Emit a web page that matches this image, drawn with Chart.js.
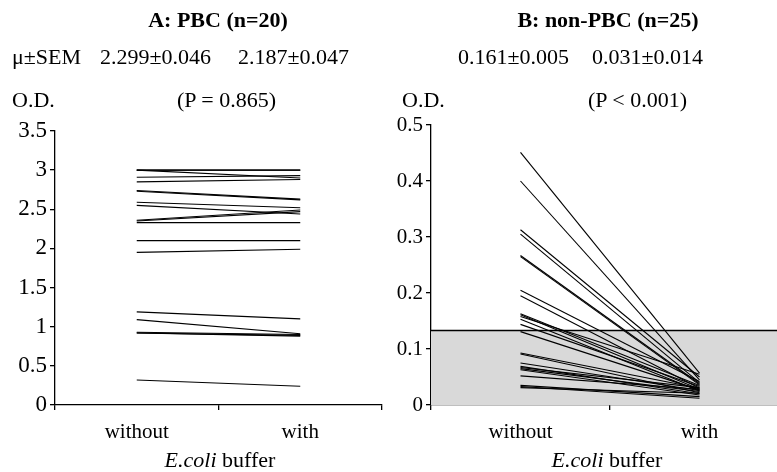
<!DOCTYPE html>
<html>
<head>
<meta charset="utf-8">
<script src="https://cdn.jsdelivr.net/npm/chart.js@4"></script>
<style>
  html, body { margin: 0; padding: 0; background: #fff; overflow: hidden; }
  body { width: 777px; height: 472px; position: relative; font-family: "Liberation Serif", "Times New Roman", serif; color: #000; }
  .t { position: absolute; font-size: 22px; line-height: 22px; white-space: nowrap; }
  .c { transform: translateX(-50%); }
  .b { font-weight: bold; }
  #boxA { position: absolute; left: 0; top: 0; width: 390px; height: 472px; }
  #boxB { position: absolute; left: 390px; top: 0; width: 420px; height: 472px; }
</style>
</head>
<body>
<div id="boxA"><canvas id="chartA"></canvas></div>
<div id="boxB"><canvas id="chartB"></canvas></div>

<div class="t c b" style="left:218px; top:9px;">A: PBC (n=20)</div>
<div class="t c b" style="left:608px; top:9px;">B: non-PBC (n=25)</div>

<div class="t" style="left:12px; top:46px;">μ±SEM</div>
<div class="t" style="left:100px; top:46px;">2.299±0.046</div>
<div class="t" style="left:238px; top:46px;">2.187±0.047</div>
<div class="t" style="left:458px; top:46px;">0.161±0.005</div>
<div class="t" style="left:592px; top:46px;">0.031±0.014</div>

<div class="t" style="left:12px; top:89px;">O.D.</div>
<div class="t" style="left:177px; top:89px;">(P = 0.865)</div>
<div class="t" style="left:402px; top:89px;">O.D.</div>
<div class="t" style="left:588px; top:89px;">(P &lt; 0.001)</div>

<div class="t c" style="left:220px; top:449px;"><i>E.coli</i> buffer</div>
<div class="t c" style="left:607px; top:449px;"><i>E.coli</i> buffer</div>

<script>
// x 카테고리
const buffers = ['without', 'with'];

// A: PBC (n=20)
const pbcWithout = [3.00, 3.00, 3.00, 2.91, 2.85, 2.74, 2.73, 2.59, 2.55, 2.36,
                    2.35, 2.33, 2.10, 1.95, 1.19, 1.09, 0.92, 0.92, 0.93, 0.32];
const pbcWith    = [3.00, 3.00, 2.90, 2.93, 2.88, 2.63, 2.62, 2.52, 2.44, 2.49,
                    2.47, 2.33, 2.10, 1.99, 1.10, 0.91, 0.89, 0.88, 0.90, 0.24];

// B: non-PBC (n=25)
const nonWithout = [0.451, 0.400, 0.313, 0.305, 0.267, 0.265, 0.205, 0.195, 0.163, 0.161,
                    0.158, 0.153, 0.144, 0.131, 0.093, 0.091, 0.075, 0.069, 0.067, 0.065,
                    0.063, 0.052, 0.035, 0.033, 0.031];
const nonWith    = [0.057, 0.045, 0.050, 0.040, 0.038, 0.036, 0.042, 0.030, 0.035, 0.028,
                    0.055, 0.025, 0.033, 0.027, 0.030, 0.022, 0.026, 0.020, 0.031, 0.024,
                    0.018, 0.028, 0.015, 0.012, 0.021];

// y축 범위
const pbcTicks = { min: 0, max: 3.5, step: 0.5 };
const nonTicks = { min: 0, max: 0.5, step: 0.1 };

// 회색 영역 (cut-off)
const cutoff = 0.133;

const SERIF = '"Liberation Serif", "Times New Roman", serif';

function makeDatasets(a, b) {
    return a.map((v, i) => ({
        data: [v, b[i]],
        borderColor: '#000',
        borderWidth: 1.1,
        pointRadius: 0,
        fill: false,
        tension: 0
    }));
}

function makeOptions(ticks, yWidth, ySize, pad) {
    return {
        responsive: false,
        animation: false,
        layout: { padding: pad },
        plugins: { legend: { display: false }, tooltip: { enabled: false } },
        scales: {
            x: {
                offset: true,
                border: { display: true, color: '#000', width: 1.3 },
                grid: { offset: true, drawOnChartArea: false, color: '#000', tickLength: 5, lineWidth: 1.3 },
                ticks: { color: '#000', font: { family: SERIF, size: 21 }, padding: 10, maxRotation: 0 },
                afterFit: s => { s.height = 67; }
            },
            y: {
                min: ticks.min,
                max: ticks.max,
                border: { display: true, color: '#000', width: 1.3 },
                grid: { drawOnChartArea: false, color: '#000', tickLength: 5, lineWidth: 1.3 },
                ticks: {
                    color: '#000',
                    font: { family: SERIF, size: ySize },
                    padding: 3,
                    stepSize: ticks.step,
                    callback: v => String(+v.toFixed(2))
                },
                afterFit: s => { s.width = yWidth; }
            }
        }
    };
}

// 회색 박스 그리기
const cutoffBox = {
    id: 'cutoffBox',
    beforeDatasetsDraw(chart) {
        const { ctx, chartArea, scales } = chart;
        const yTop = scales.y.getPixelForValue(cutoff);
        const yBot = scales.y.getPixelForValue(0);
        ctx.save();
        ctx.fillStyle = '#d9d9d9';
        ctx.fillRect(chartArea.left, yTop, chartArea.right - chartArea.left, yBot - yTop);
        ctx.strokeStyle = '#000';
        ctx.lineWidth = 1.3;
        ctx.beginPath();
        ctx.moveTo(chartArea.left, yTop);
        ctx.lineTo(chartArea.right, yTop);
        ctx.stroke();
        ctx.restore();
    }
};

const cA = document.getElementById('chartA');
cA.width = 390; cA.height = 472;
new Chart(cA.getContext('2d'), {
    type: 'line',
    data: { labels: buffers, datasets: makeDatasets(pbcWithout, pbcWith) },
    options: makeOptions(pbcTicks, 55, 23, { left: 0, top: 131, right: 8, bottom: 0 })
});

const cB = document.getElementById('chartB');
cB.width = 420; cB.height = 472;
new Chart(cB.getContext('2d'), {
    type: 'line',
    data: { labels: buffers, datasets: makeDatasets(nonWithout, nonWith) },
    options: makeOptions(nonTicks, 41, 21, { left: 0, top: 125, right: 21, bottom: 0 }),
    plugins: [cutoffBox]
});
</script>
</body>
</html>
